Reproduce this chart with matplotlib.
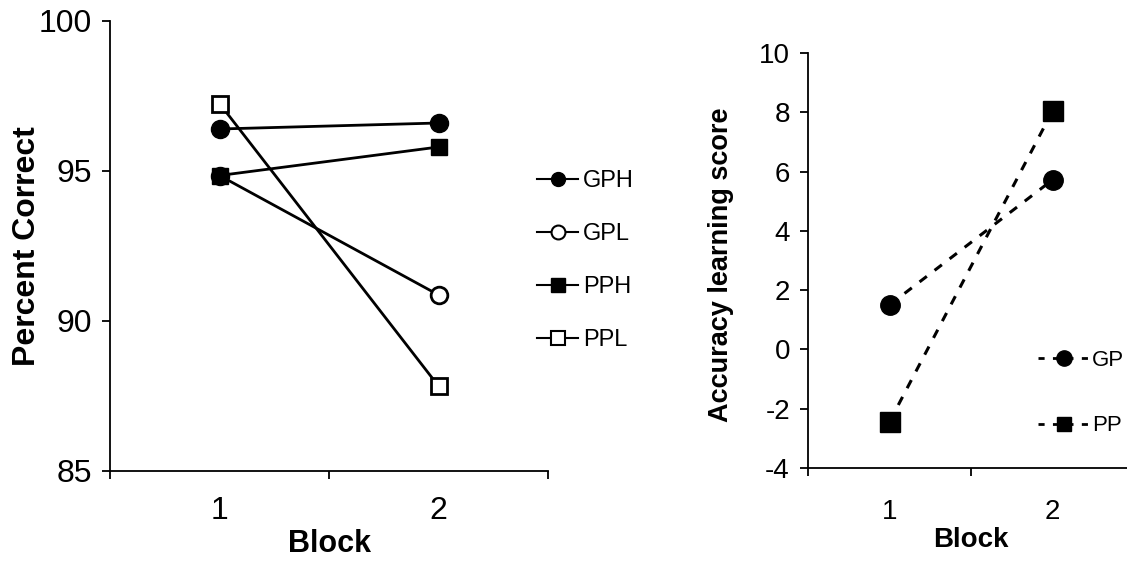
import numpy as np
import matplotlib.pyplot as plt
from matplotlib.lines import Line2D

plt.rcParams['font.family'] = ['Liberation Sans', 'DejaVu Sans']
plt.rcParams['axes.unicode_minus'] = False

blocks = ['1', '2']

# left panel: percent correct
gph = [96.4, 96.6]
gpl = [94.85, 90.87]
pph = [94.85, 95.8]
ppl = [97.25, 87.83]

# right panel: accuracy learning score
gp = [1.5, 5.72]
pp = [-2.44, 8.04]

W, H = 1127, 565
fig = plt.figure(figsize=(W / 100, H / 100), dpi=100)


def px_axes(x0, x1, ytop, ybot):
	return fig.add_axes([x0 / W, 1 - ybot / H, (x1 - x0) / W, (ybot - ytop) / H])


def style_axes(ax, fs, xpad):
	ax.spines['top'].set_visible(False)
	ax.spines['right'].set_visible(False)
	for s in ['left', 'bottom']:
		ax.spines[s].set_linewidth(1.3)
	ax.set_xlim(0.5, 2.5)
	ax.set_xticks([0.5, 1.5, 2.5])
	ax.set_xticklabels([])
	ax.set_xticks([1, 2], minor=True)
	ax.set_xticklabels(blocks, minor=True)
	ax.tick_params(axis='x', which='major', direction='out', length=6, width=1.3)
	ax.tick_params(axis='x', which='minor', length=0, pad=xpad, labelsize=fs)
	ax.tick_params(axis='y', direction='out', length=6, width=1.3, labelsize=fs, pad=7)


x = np.array([1, 2])

# ---- left panel
ax1 = px_axes(110, 548, 21, 471)
style_axes(ax1, 23, 18)
ax1.set_ylim(85, 100)
ax1.set_yticks([85, 90, 95, 100])
lw = 2
ax1.plot(x, gpl, '-', color='black', lw=lw, marker='o', ms=12, mfc='white', mec='black', mew=2, zorder=3)
ax1.plot(x, ppl, '-', color='black', lw=lw, marker='s', ms=12, mfc='white', mec='black', mew=2, zorder=3)
ax1.plot(x, gph, '-', color='black', lw=lw, marker='o', ms=13, mfc='black', mec='black', zorder=4)
ax1.plot(x, pph, '-', color='black', lw=lw, marker='s', ms=12, mfc='black', mec='black', zorder=4)
ax1.set_xlabel('Block', fontsize=22, fontweight='bold', labelpad=2)
ax1.set_ylabel('Percent Correct', fontsize=23, fontweight='bold')
ax1.yaxis.set_label_coords(-0.155, 0.5)

h1 = [Line2D([], [], color='black', lw=1.5, marker='o', ms=10, mfc='black', mec='black'),
      Line2D([], [], color='black', lw=1.5, marker='o', ms=10, mfc='white', mec='black', mew=1.5),
      Line2D([], [], color='black', lw=1.5, marker='s', ms=10, mfc='black', mec='black'),
      Line2D([], [], color='black', lw=1.5, marker='s', ms=10, mfc='white', mec='black', mew=1.5)]
fig.legend(h1, ['GPH', 'GPL', 'PPH', 'PPL'], loc='upper left', bbox_to_anchor=(537 / W, 1 - 170 / H),
           frameon=False, fontsize=17, handlelength=1.75, handletextpad=0.2, labelspacing=1.32,
           borderpad=0, borderaxespad=0)

# ---- right panel
ax2 = px_axes(808, 1134, 53, 468)
style_axes(ax2, 20, 22)
ax2.set_ylim(-4, 10)
ax2.set_yticks(np.arange(-4, 11, 2))
ax2.plot(x, gp, color='black', lw=2.2, dashes=(3, 3.2), marker='o', ms=14, mfc='black', mec='black', zorder=3)
ax2.plot(x, pp, color='black', lw=2.2, dashes=(3, 3.2), marker='s', ms=14, mfc='black', mec='black', zorder=3)
ax2.set_xlabel('Block', fontsize=20, fontweight='bold', labelpad=2)
ax2.set_ylabel('Accuracy learning score', fontsize=19.5, fontweight='bold')
ax2.yaxis.set_label_coords(-0.227, 0.49)

h2 = [Line2D([], [], color='black', lw=2, dashes=(2.2, 3), marker='o', ms=11, mfc='black', mec='black'),
      Line2D([], [], color='black', lw=2, dashes=(2.2, 3), marker='s', ms=10, mfc='black', mec='black')]
fig.legend(h2, ['GP', 'PP'], loc='upper left', bbox_to_anchor=(1038 / W, 1 - 350 / H),
           frameon=False, fontsize=16, handlelength=2.3, handletextpad=0.12, labelspacing=2.0,
           borderpad=0, borderaxespad=0)

fig.savefig('out.png', dpi=100)
